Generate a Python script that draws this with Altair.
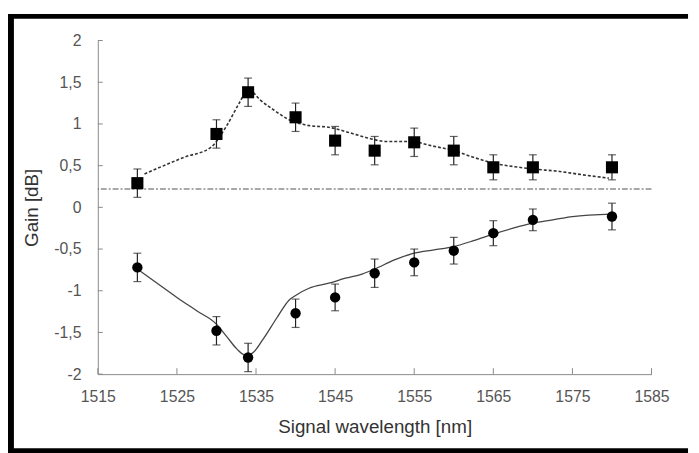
import altair as alt
import pandas as pd

# ---- data ----
wavelength = [1520, 1530, 1534, 1540, 1545, 1550, 1555, 1560, 1565, 1570, 1580]
gain_squares = [0.29, 0.88, 1.38, 1.08, 0.80, 0.68, 0.78, 0.68, 0.48, 0.48, 0.48]
err_squares = [0.17, 0.17, 0.17, 0.17, 0.17, 0.17, 0.17, 0.17, 0.15, 0.15, 0.15]
gain_circles = [-0.72, -1.48, -1.80, -1.27, -1.08, -0.79, -0.66, -0.52, -0.31, -0.15, -0.11]
err_circles = [0.17, 0.17, 0.17, 0.17, 0.16, 0.17, 0.16, 0.16, 0.15, 0.13, 0.16]

square_fit_x = [1520.9, 1525.9, 1529.3, 1531.3, 1533.0, 1534.0, 1535.5, 1537.2, 1538.8,
                1541.7, 1544.2, 1546.3, 1549.6, 1551.3, 1554.6, 1557.1, 1560.0, 1562.5,
                1565.0, 1567.5, 1570.0, 1573.4, 1576.3, 1579.6]
square_fit_y = [0.40, 0.60, 0.72, 0.98, 1.27, 1.42, 1.29, 1.17, 1.07,
                0.98, 0.96, 0.91, 0.82, 0.79, 0.79, 0.74, 0.68, 0.60,
                0.53, 0.49, 0.46, 0.43, 0.39, 0.35]

circle_fit_x = [1520, 1522.5, 1525, 1527.5, 1530, 1531.3, 1532.6, 1533.6, 1534.5, 1535.9,
                1537.6, 1539.2, 1540.1, 1541.7, 1544.2, 1546.3, 1548.4, 1550, 1552.5,
                1555, 1557.5, 1560, 1562.5, 1565, 1567.5, 1570, 1572.5, 1575, 1580]
circle_fit_y = [-0.74, -0.91, -1.08, -1.24, -1.40, -1.55, -1.70, -1.77, -1.75, -1.58,
                -1.33, -1.11, -1.05, -0.97, -0.91, -0.85, -0.80, -0.74, -0.63,
                -0.55, -0.51, -0.47, -0.40, -0.32, -0.25, -0.19, -0.15, -0.11, -0.08]

ref_level = [0.22]

x_ticks = [1515, 1525, 1535, 1545, 1555, 1565, 1575, 1585]
y_ticks = [-2, -1.5, -1, -0.5, 0, 0.5, 1, 1.5, 2]

# ---- tables ----
pts = pd.DataFrame({
    "wl": wavelength,
    "sq": gain_squares,
    "sq_lo": [g - e for g, e in zip(gain_squares, err_squares)],
    "sq_hi": [g + e for g, e in zip(gain_squares, err_squares)],
    "ci": gain_circles,
    "ci_lo": [g - e for g, e in zip(gain_circles, err_circles)],
    "ci_hi": [g + e for g, e in zip(gain_circles, err_circles)],
})
sq_fit = pd.DataFrame({"wl": square_fit_x, "g": square_fit_y})
ci_fit = pd.DataFrame({"wl": circle_fit_x, "g": circle_fit_y})
ref = pd.DataFrame({"g": ref_level})
xt = pd.DataFrame({"wl": x_ticks})
yt = pd.DataFrame({"g": y_ticks})
one = pd.DataFrame({"k": [0]})

W, H = 561, 338
FONT = "Liberation Sans"

xs = alt.Scale(domain=[1515, 1585], nice=False, zero=False)
ys = alt.Scale(domain=[-2, 2], nice=False, zero=False)

x_axis = alt.Axis(values=x_ticks, format="d", title="Signal wavelength [nm]",
                  labelPadding=15, titlePadding=13, labelFlush=False, labelOverlap=False)
y_axis = alt.Axis(values=y_ticks, labelExpr="replace(toString(datum.value), '.', ',')",
                  title="Gain [dB]", labelPadding=17, titlePadding=13,
                  labelFlush=False, labelOverlap=False)


def X(field):
    return alt.X(field, type="quantitative", scale=xs, axis=x_axis)


def Y(field):
    return alt.Y(field, type="quantitative", scale=ys, axis=y_axis)


ref_line = alt.Chart(ref).mark_rule(color="#555", strokeWidth=1.1,
                                    strokeDash=[6, 2, 2, 2]).encode(y=Y("g"))

sq_line = alt.Chart(sq_fit).mark_line(color="#333", strokeWidth=1.6, strokeDash=[3, 2],
                                      interpolate="monotone").encode(x=X("wl"), y=Y("g"))
ci_line = alt.Chart(ci_fit).mark_line(color="#444", strokeWidth=1.3,
                                      interpolate="monotone").encode(x=X("wl"), y=Y("g"))

sq_err = alt.Chart(pts).mark_errorbar(ticks=True, size=8, thickness=1.2, color="#222").encode(
    x=X("wl"), y=Y("sq_lo"), y2="sq_hi:Q")
ci_err = alt.Chart(pts).mark_errorbar(ticks=True, size=8, thickness=1.2, color="#222").encode(
    x=X("wl"), y=Y("ci_lo"), y2="ci_hi:Q")

sq_pts = alt.Chart(pts).mark_point(shape="square", filled=True, size=150, color="#000",
                                   opacity=1).encode(x=X("wl"), y=Y("sq"))
ci_pts = alt.Chart(pts).mark_point(shape="circle", filled=True, size=110, color="#000",
                                   opacity=1).encode(x=X("wl"), y=Y("ci"))

# inward axis ticks
x_tick_marks = alt.Chart(xt).mark_rule(color="#888", strokeWidth=1).encode(
    x=X("wl"), y=alt.value(H), y2=alt.value(H - 6))
y_tick_marks = alt.Chart(yt).mark_rule(color="#888", strokeWidth=1).encode(
    y=Y("g"), x=alt.value(0), x2=alt.value(5))

# outer black frame (left, top, bottom)
frame_left = alt.Chart(one).mark_rule(color="#000", strokeWidth=6).encode(
    x=alt.value(-88), y=alt.value(-27), y2=alt.value(418))
frame_top = alt.Chart(one).mark_rule(color="#000", strokeWidth=5).encode(
    x=alt.value(-88), x2=alt.value(598), y=alt.value(-24.5))
frame_bottom = alt.Chart(one).mark_rule(color="#000", strokeWidth=5).encode(
    x=alt.value(-88), x2=alt.value(598), y=alt.value(H + 77.5))

chart = alt.layer(
    ref_line, sq_line, ci_line, sq_err, ci_err, sq_pts, ci_pts,
    x_tick_marks, y_tick_marks, frame_left, frame_top, frame_bottom
).properties(
    width=W, height=H, padding=0, background="white"
).configure_view(
    strokeWidth=0
).configure_axis(
    grid=False, ticks=False, domainColor="#888", domainWidth=1,
    labelFont=FONT, labelFontSize=16, labelColor="#555",
    titleFont=FONT, titleFontSize=19, titleColor="#333", titleFontWeight="normal"
)

chart.save("out.html", embed_options={"renderer": "svg", "actions": False})
